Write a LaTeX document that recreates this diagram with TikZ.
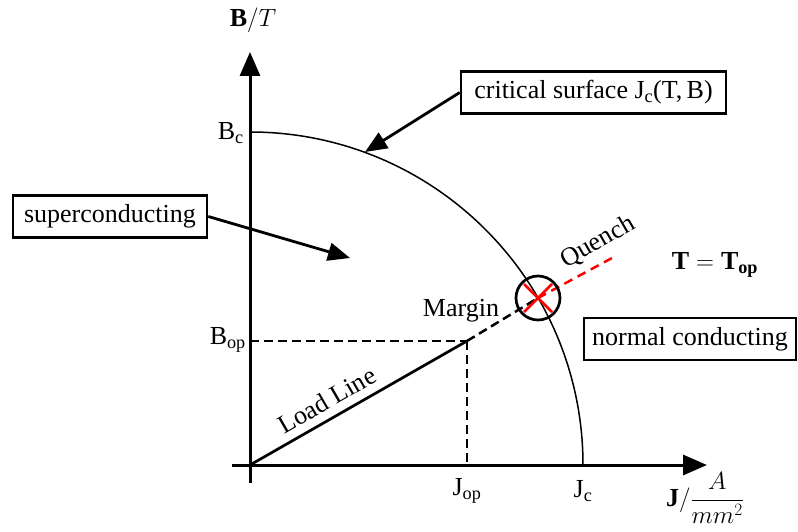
\documentclass[tikz,border=0pt]{standalone}
\usepackage{fontspec}
\setmainfont{Liberation Serif}
\usetikzlibrary{arrows.meta,calc}
\begin{document}
\begin{tikzpicture}[x=1pt,y=1pt,
  txt/.style={font=\fontsize{26}{30}\selectfont, inner sep=0pt},
  lbox/.style={txt, draw, line width=2.6pt, inner xsep=6pt, inner ysep=0pt, minimum height=42pt},
  axis/.style={line width=3pt, -{Triangle[length=24pt,width=20pt]}},
  pointer/.style={line width=2.8pt, -{Triangle[length=22pt,width=18pt]}},
  dsh/.style={line width=2.5pt, dash pattern=on 9pt off 5pt},
  rdsh/.style={line width=2.5pt, red, dash pattern=on 9pt off 6pt}]
\useasboundingbox (0,0) rectangle (798,531);
% key points
\coordinate (O) at (250,66);
\coordinate (P) at (467,190);
\coordinate (Q) at (538,233);
\coordinate (R) at (612,273);
\coordinate (Ybot) at (250,48);
\coordinate (Ytop) at (250,479);
\coordinate (Xl) at (232,66);
\coordinate (Xr) at (707,66);
\coordinate (Bop) at (250,190);
\coordinate (Jop) at (467,66);
\coordinate (Bc) at (250,399);
\coordinate (Jc) at (583,66);
% axes
\draw[axis] (Ybot) -- (Ytop);
\draw[axis] (Xl) -- (Xr);
% critical curve
\draw[line width=1.5pt] (Bc) arc[start angle=90,end angle=0,radius=333];
% load line
\draw[line width=2.7pt] (O) -- (P);
\draw[dsh] (P) -- (Q);
\draw[rdsh] (Q) -- (R);
\draw[dsh] (Bop) -- (P);
\draw[dsh] (P) -- (Jop);
% quench marker
\node[draw, circle, line width=2.7pt, minimum size=44pt, inner sep=0pt] (qc) at (Q) {};
\draw[red, line width=2.5pt] ($(Q)+(-14,-14)$) -- ($(Q)+(14,14)$);
\draw[red, line width=2.5pt] ($(Q)+(-14,14)$) -- ($(Q)+(14,-14)$);
% labels
\node[txt] (by) at (253,511) {$\mathbf{B}/T$};
\node[txt, anchor=east] (lbc) at (244,398) {B\textsubscript{c}};
\node[txt, anchor=east] (lbop) at (246,191) {B\textsubscript{op}};
\node[txt] (ljop) at (467,40) {J\textsubscript{op}};
\node[txt] (ljc) at (583,40) {J\textsubscript{c}};
\node[txt, anchor=north] (jx) at (705,59) {$\mathbf{J}/{\displaystyle\frac{A}{mm^2}}$};
\node[txt] (top) at (715,266) {$\mathbf{T=T_{op}}$};
\node[txt] (margin) at (461,220) {Margin};
\node[txt, rotate=30] (quench) at (598,289) {Quench};
\node[txt, rotate=30] (loadl) at (327,131) {Load Line};
% boxes
\node[lbox, minimum width=265pt] (crit) at (593.5,438.5) {critical surface J\textsubscript{c}(T,\,B)};
\node[lbox, minimum width=194pt] (sup) at (110,314.5) {superconducting};
\node[lbox, minimum width=212pt] (norm) at (690,192) {normal conducting};
\coordinate (critTip) at (365,379);
\coordinate (supTip) at (350,273);
\draw[pointer] (crit.west) -- (critTip);
\draw[pointer] (sup.east) -- (supTip);
\end{tikzpicture}
\end{document}
